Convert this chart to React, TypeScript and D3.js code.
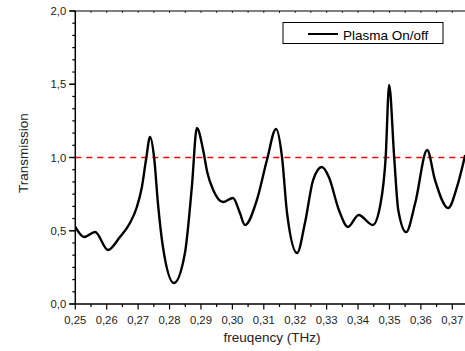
import React from "react";
import * as d3 from "d3";

const freq: number[] = [
  0.25, 0.2528, 0.2563, 0.2604, 0.2642, 0.2674, 0.2696, 0.2712, 0.2725, 0.2738,
  0.2751, 0.2763, 0.2779, 0.2814, 0.2849, 0.2871, 0.2887, 0.2907, 0.292, 0.2939,
  0.297, 0.3002, 0.3024, 0.304, 0.3078, 0.311, 0.3139, 0.3158, 0.3174, 0.3206,
  0.3231, 0.3257, 0.3285, 0.3307, 0.3339, 0.3368, 0.3402, 0.3447, 0.3472, 0.3488,
  0.3499, 0.3515, 0.3528, 0.3553, 0.3582, 0.362, 0.3645, 0.3687, 0.3715, 0.3741,
];
const transmission: number[] = [
  0.526, 0.457, 0.491, 0.369, 0.457, 0.553, 0.662, 0.799, 0.983, 1.14,
  0.997, 0.689, 0.389, 0.143, 0.348, 0.799, 1.201, 1.05, 0.9, 0.778,
  0.696, 0.724, 0.621, 0.539, 0.71, 0.983, 1.195, 1.003, 0.621, 0.348,
  0.553, 0.846, 0.935, 0.867, 0.642, 0.526, 0.608, 0.539, 0.689, 1.003,
  1.495, 1.003, 0.642, 0.491, 0.689, 1.051, 0.846, 0.655, 0.799, 1.017,
];
const xTicks: number[] = [0.25, 0.26, 0.27, 0.28, 0.29, 0.3, 0.31, 0.32, 0.33, 0.34, 0.35, 0.36, 0.37];
const yTicks: number[] = [0, 0.5, 1, 1.5, 2];
const referenceLevel = 1.0;
const seriesName = "Plasma On/off";
const xTitle = "freuqency (THz)";
const yTitle = "Transmission";

const W = 465;
const H = 351;
const L = 75.3;
const R = 468;
const T = 11;
const B = 304;

export default function App() {
  const x = d3.scaleLinear().domain([0.25, 0.375]).range([L, R]);
  const y = d3.scaleLinear().domain([0, 2]).range([B, T]);
  const fmt = (v: number, d: number) => v.toFixed(d).replace(".", ",");

  const pts = freq.map((f, i) => [f, transmission[i]] as [number, number]);
  const line = d3
    .line<[number, number]>()
    .x((d) => x(d[0]))
    .y((d) => y(d[1]))
    .curve(d3.curveMonotoneX);

  const xMinor: number[] = d3.range(0, 26).map((i) => 0.25 + i * 0.005);
  const yMinor: number[] = d3.range(0, 25).map((i) => (i * 0.5) / 6);

  const font = "Liberation Sans, Arial, sans-serif";

  return (
    <svg
      width={W}
      height={H}
      style={{ position: "absolute", left: 0, top: 0, display: "block", background: "#fff" }}
      fontFamily={font}
    >
      <defs>
        <clipPath id="plot">
          <rect x={L} y={T} width={R - L} height={B - T} />
        </clipPath>
      </defs>
      {/* reference line */}
      <line
        x1={L}
        x2={R}
        y1={y(referenceLevel)}
        y2={y(referenceLevel)}
        stroke="#ff0000"
        strokeWidth={1.6}
        strokeDasharray="6,5"
      />
      {/* curve */}
      <path d={line(pts) || ""} fill="none" stroke="#000" strokeWidth={2.4} strokeLinejoin="round" clipPath="url(#plot)" />

      {/* axes lines */}
      <line x1={L} x2={L} y1={T} y2={B} stroke="#000" strokeWidth={1.5} />
      <line x1={L - 0.75} x2={W} y1={B} y2={B} stroke="#000" strokeWidth={1.5} />
      <line x1={L - 0.75} x2={W} y1={T} y2={T} stroke="#000" strokeWidth={1.2} />

      {/* x minor ticks */}
      {xMinor.map((v, i) => (
        <g key={"xm" + i}>
          <line x1={x(v)} x2={x(v)} y1={B} y2={B + (i % 2 === 0 ? 5.5 : 3)} stroke="#000" strokeWidth={1.2} />
          <line x1={x(v)} x2={x(v)} y1={T} y2={T + 2} stroke="#000" strokeWidth={0.8} />
        </g>
      ))}
      {/* x labels */}
      {xTicks.map((v, i) => (
        <text key={"xl" + i} x={x(v)} y={B + 19.5} textAnchor="middle" fontSize={11.3} fill="#222">
          {fmt(v, 2)}
        </text>
      ))}

      {/* y ticks */}
      {yMinor.map((v, i) => (
        <line
          key={"ym" + i}
          x1={L - (i % 6 === 0 ? 6 : 3)}
          x2={L}
          y1={y(v)}
          y2={y(v)}
          stroke="#000"
          strokeWidth={1.2}
        />
      ))}
      {yTicks.map((v, i) => (
        <g key={"yt" + i}>
          <line x1={L - 6} x2={L} y1={y(v)} y2={y(v)} stroke="#000" strokeWidth={1.2} />
          <text x={L - 9} y={y(v) + 4} textAnchor="end" fontSize={11.3} fill="#222">
            {fmt(v, 1)}
          </text>
        </g>
      ))}

      {/* axis titles */}
      <text x={272} y={342} textAnchor="middle" fontSize={13.5} fill="#222">
        {xTitle}
      </text>
      <text
        transform={`translate(28, 153) rotate(-90)`}
        textAnchor="middle"
        fontSize={13.5}
        fill="#222"
      >
        {yTitle}
      </text>

      {/* legend */}
      <rect x={283} y={22.5} width={160} height={21} fill="#fff" stroke="#000" strokeWidth={1} />
      <line x1={308} x2={338} y1={34} y2={34} stroke="#000" strokeWidth={2} />
      <text x={343} y={39.5} fontSize={13.5} fill="#000">
        {seriesName}
      </text>
    </svg>
  );
}
